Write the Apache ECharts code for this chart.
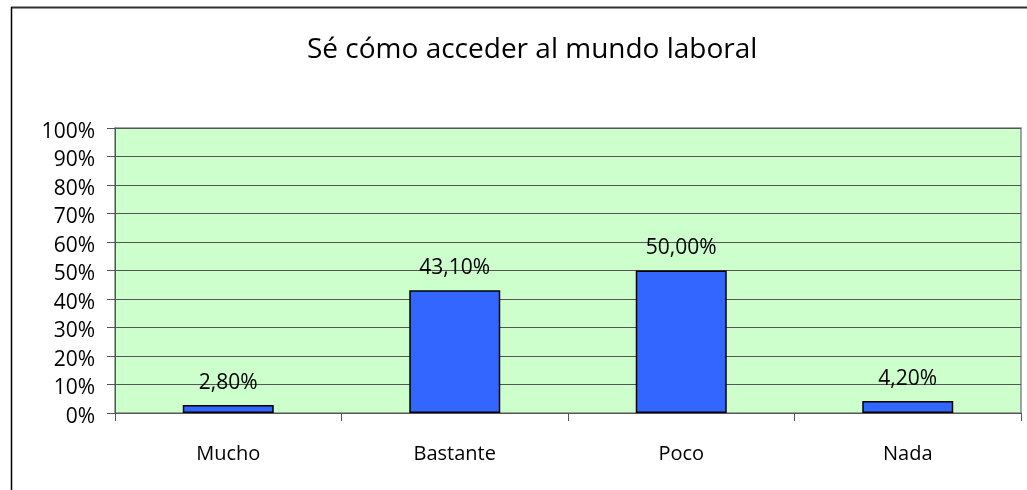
<!DOCTYPE html>
<html>
<head>
<meta charset="utf-8">
<script src="https://cdn.jsdelivr.net/npm/echarts@6/dist/echarts.min.js"></script>
<style>
  html, body { margin: 0; padding: 0; background: #fff; }
  #main { width: 1027px; height: 490px; }
</style>
</head>
<body>
<div id="main"></div>
<script>
// datos del grafico
var categories = ['Mucho', 'Bastante', 'Poco', 'Nada'];
var values = [2.8, 43.1, 50.0, 4.2];
var titleText = 'Sé cómo acceder al mundo laboral';

var chart = echarts.init(document.getElementById('main'));

var option = {
    animation: false,
    backgroundColor: '#ffffff',
    title: {
        text: titleText,
        left: 302,
        top: 31,
        textStyle: {
            fontFamily: 'Open Sans',
            fontWeight: 'normal',
            fontSize: 28,
            color: '#000'
        }
    },
    graphic: [{
        type: 'line',
        shape: { x1: 11, y1: 7.5, x2: 1027, y2: 7.5 },
        style: { stroke: '#333', lineWidth: 2 }
    }, {
        type: 'line',
        shape: { x1: 11.5, y1: 7, x2: 11.5, y2: 490 },
        style: { stroke: '#000', lineWidth: 1.5 }
    }],
    grid: {
        left: 115,
        right: 6,
        top: 128,
        bottom: 77,
        show: true,
        backgroundColor: '#ccffcc',
        borderColor: '#888',
        borderWidth: 1.5
    },
    xAxis: {
        type: 'category',
        data: categories,
        axisLine: { lineStyle: { color: '#555', width: 1 } },
        axisTick: { show: true, length: 8, lineStyle: { color: '#555' } },
        axisLabel: {
            margin: 31,
            fontFamily: 'Open Sans',
            fontSize: 20,
            color: '#000'
        }
    },
    yAxis: {
        type: 'value',
        min: 0,
        max: 100,
        interval: 10,
        axisLine: { show: true, lineStyle: { color: '#555', width: 1 } },
        axisTick: { show: true, length: 8, lineStyle: { color: '#555' } },
        axisLabel: {
            margin: 20,
            fontFamily: 'Open Sans',
            fontSize: 21,
            color: '#000',
            formatter: function (v) { return '{p|' + v + '%}'; },
            rich: {
                p: { fontFamily: 'Open Sans', fontSize: 21, color: '#000', padding: [8, 0, 0, 0] }
            }
        },
        splitLine: { show: true, lineStyle: { color: '#555', width: 1 } }
    },
    series: [{
        type: 'bar',
        data: values,
        barWidth: 91,
        itemStyle: {
            color: '#3366ff',
            borderColor: '#000',
            borderWidth: 1.5
        },
        label: {
            show: true,
            position: 'top',
            distance: 12,
            fontFamily: 'Open Sans',
            fontSize: 21,
            color: '#000',
            formatter: function (p) {
                return p.value.toFixed(2).replace('.', ',') + '%';
            }
        }
    }]
};

chart.setOption(option);
</script>
</body>
</html>
